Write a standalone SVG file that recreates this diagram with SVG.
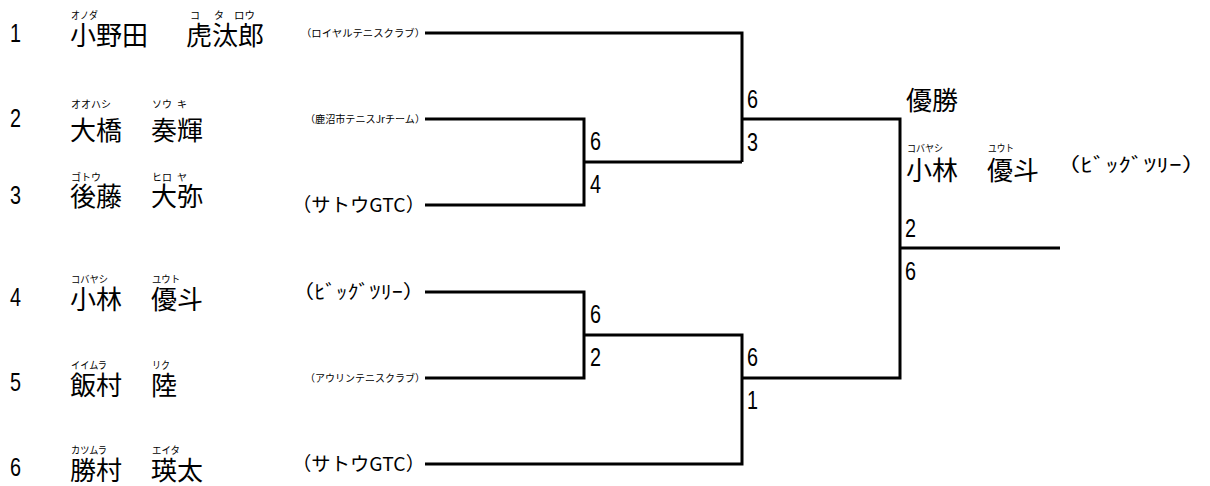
<svg xmlns="http://www.w3.org/2000/svg" width="1210" height="486" viewBox="0 0 1210 486">
<style>
.num{font-family:"Liberation Sans",Arial,sans-serif;font-size:25px;fill:#000}
.nm{font-family:"Noto Sans CJK JP",sans-serif;font-size:26px;fill:#000}
.rb{font-family:"Noto Sans CJK JP",sans-serif;font-size:10px;fill:#000}
.cl{font-family:"Noto Sans CJK JP",sans-serif;font-size:19px;fill:#000}
.cs{font-family:"Noto Sans CJK JP",sans-serif;font-size:10px;fill:#000}
.ln{fill:none;stroke:#000;stroke-width:3;stroke-linejoin:miter;stroke-linecap:butt}
</style>
<rect width="1210" height="486" fill="#fff"/>
<g id="player1">
<text class="num" x="10" y="42" textLength="11" lengthAdjust="spacingAndGlyphs">1</text>
<text class="rb" x="71" y="19" textLength="27" lengthAdjust="spacingAndGlyphs">オノダ</text>
<text class="rb" x="190" y="19">コ</text>
<text class="rb" x="214" y="19">タ</text>
<text class="rb" x="234" y="19" textLength="21" lengthAdjust="spacingAndGlyphs">ロウ</text>
<text class="nm" x="70" y="45">小野田</text>
<text class="nm" x="186" y="45">虎汰郎</text>
<text class="cs" x="425" y="37" text-anchor="end" textLength="124" lengthAdjust="spacingAndGlyphs">（ロイヤルテニスクラブ）</text>
</g>
<g id="player2">
<text class="num" x="10" y="127" textLength="11" lengthAdjust="spacingAndGlyphs">2</text>
<text class="rb" x="71" y="108" textLength="40" lengthAdjust="spacingAndGlyphs">オオハシ</text>
<text class="rb" x="152" y="108" textLength="20" lengthAdjust="spacingAndGlyphs">ソウ</text>
<text class="rb" x="177" y="108">キ</text>
<text class="nm" x="70" y="140">大橋</text>
<text class="nm" x="151" y="140">奏輝</text>
<text class="cs" x="425" y="123" text-anchor="end" textLength="120" lengthAdjust="spacingAndGlyphs">（鹿沼市テニスJrチーム）</text>
</g>
<g id="player3">
<text class="num" x="10" y="204" textLength="11" lengthAdjust="spacingAndGlyphs">3</text>
<text class="rb" x="71" y="181" textLength="30" lengthAdjust="spacingAndGlyphs">ゴトウ</text>
<text class="rb" x="152" y="181" textLength="20" lengthAdjust="spacingAndGlyphs">ヒロ</text>
<text class="rb" x="177" y="181">ヤ</text>
<text class="nm" x="70" y="206">後藤</text>
<text class="nm" x="151" y="206">大弥</text>
<text class="cl" x="425" y="212" text-anchor="end" textLength="133" lengthAdjust="spacingAndGlyphs">（サトウGTC）</text>
</g>
<g id="player4">
<text class="num" x="10" y="306" textLength="11" lengthAdjust="spacingAndGlyphs">4</text>
<text class="rb" x="71" y="283" textLength="37" lengthAdjust="spacingAndGlyphs">コバヤシ</text>
<text class="rb" x="152" y="283" textLength="28" lengthAdjust="spacingAndGlyphs">ユウト</text>
<text class="nm" x="70" y="309">小林</text>
<text class="nm" x="151" y="309">優斗</text>
<text class="cl" x="425" y="299" text-anchor="end" textLength="133" lengthAdjust="spacingAndGlyphs">（ﾋﾞｯｸﾞﾂﾘｰ）</text>
</g>
<g id="player5">
<text class="num" x="10" y="391" textLength="11" lengthAdjust="spacingAndGlyphs">5</text>
<text class="rb" x="71" y="369" textLength="36" lengthAdjust="spacingAndGlyphs">イイムラ</text>
<text class="rb" x="152" y="369" textLength="18" lengthAdjust="spacingAndGlyphs">リク</text>
<text class="nm" x="70" y="395">飯村</text>
<text class="nm" x="151" y="395">陸</text>
<text class="cs" x="425" y="382" text-anchor="end" textLength="120" lengthAdjust="spacingAndGlyphs">（アウリンテニスクラブ）</text>
</g>
<g id="player6">
<text class="num" x="10" y="476" textLength="11" lengthAdjust="spacingAndGlyphs">6</text>
<text class="rb" x="71" y="454" textLength="36" lengthAdjust="spacingAndGlyphs">カツムラ</text>
<text class="rb" x="152" y="454" textLength="28" lengthAdjust="spacingAndGlyphs">エイタ</text>
<text class="nm" x="70" y="480">勝村</text>
<text class="nm" x="151" y="480">瑛太</text>
<text class="cl" x="425" y="471" text-anchor="end" textLength="133" lengthAdjust="spacingAndGlyphs">（サトウGTC）</text>
</g>
<g id="champion">
<text class="nm" x="906" y="110">優勝</text>
<text class="rb" x="907" y="152" textLength="36" lengthAdjust="spacingAndGlyphs">コバヤシ</text>
<text class="rb" x="988" y="152" textLength="26" lengthAdjust="spacingAndGlyphs">ユウト</text>
<text class="nm" x="906" y="180">小林</text>
<text class="nm" x="987" y="180">優斗</text>
<text class="cl" x="1207" y="172" text-anchor="end" textLength="152" lengthAdjust="spacingAndGlyphs">（ﾋﾞｯｸﾞﾂﾘｰ）</text>
</g>
<g id="scores">
<text class="num" x="590" y="150" textLength="11" lengthAdjust="spacingAndGlyphs">6</text>
<text class="num" x="590" y="193" textLength="11" lengthAdjust="spacingAndGlyphs">4</text>
<text class="num" x="747" y="108" textLength="11" lengthAdjust="spacingAndGlyphs">6</text>
<text class="num" x="747" y="151" textLength="11" lengthAdjust="spacingAndGlyphs">3</text>
<text class="num" x="590" y="323" textLength="11" lengthAdjust="spacingAndGlyphs">6</text>
<text class="num" x="590" y="366" textLength="11" lengthAdjust="spacingAndGlyphs">2</text>
<text class="num" x="747" y="366" textLength="11" lengthAdjust="spacingAndGlyphs">6</text>
<text class="num" x="747" y="409" textLength="11" lengthAdjust="spacingAndGlyphs">1</text>
<text class="num" x="905" y="237" textLength="11" lengthAdjust="spacingAndGlyphs">2</text>
<text class="num" x="905" y="280" textLength="11" lengthAdjust="spacingAndGlyphs">6</text>
</g>
<g id="connectors">
<path class="ln" d="M425 33 H742 V162"/>
<path class="ln" d="M425 119 H584 V205 H425"/>
<path class="ln" d="M584 162 H742"/>
<path class="ln" d="M742 119 H900 V378 H742"/>
<path class="ln" d="M425 292 H584 V378 H425"/>
<path class="ln" d="M584 335 H742 V464 H425"/>
<path class="ln" d="M900 248 H1060"/>
</g>
</svg>
